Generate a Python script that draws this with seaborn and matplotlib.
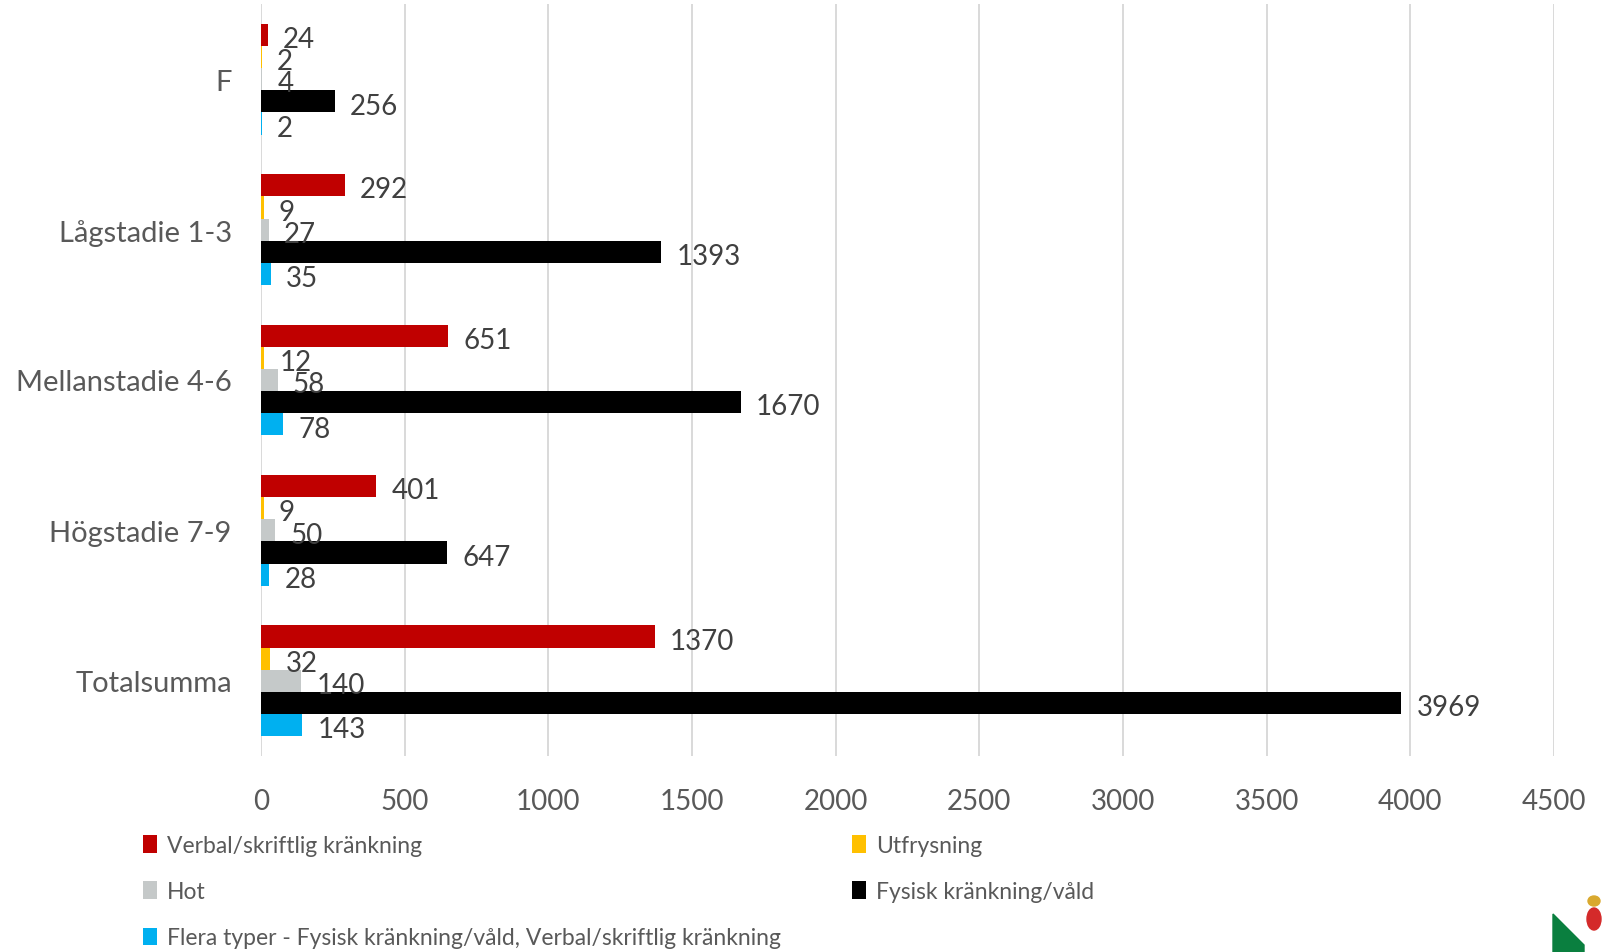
import matplotlib
matplotlib.use("Agg")
import matplotlib.pyplot as plt
from matplotlib import font_manager
from matplotlib.patches import Polygon, Ellipse
import pandas as pd
import seaborn as sns

categories = ["F", "Lågstadie 1-3", "Mellanstadie 4-6", "Högstadie 7-9", "Totalsumma"]
series_names = [
    "Verbal/skriftlig kränkning",
    "Utfrysning",
    "Hot",
    "Fysisk kränkning/våld",
    "Flera typer - Fysisk kränkning/våld, Verbal/skriftlig kränkning",
]
verbal = [24, 292, 651, 401, 1370]
utfrysning = [2, 9, 12, 9, 32]
hot = [4, 27, 58, 50, 140]
fysisk = [256, 1393, 1670, 647, 3969]
flera = [2, 35, 78, 28, 143]
colors = ["#C00000", "#FFC000", "#C5C9C9", "#000000", "#00B0F0"]
x_ticks = [0, 500, 1000, 1500, 2000, 2500, 3000, 3500, 4000, 4500]

W, H, DPI = 1602, 953, 100
TEXT_GREY = "#595959"
LABEL_GREY = "#404040"

sns.set_theme(style="white")
plt.rcParams["font.family"] = ["Lato", "DejaVu Sans"]

available = {f.name for f in font_manager.fontManager.ttflist}
if "Liberation Sans Narrow" in available:
    legend_font = {"family": ["Liberation Sans Narrow", "DejaVu Sans"], "size": 18}
else:
    legend_font = {"family": ["Lato", "DejaVu Sans"], "size": 16.5}

rows = []
for name, values in zip(series_names, [verbal, utfrysning, hot, fysisk, flera]):
    for cat, v in zip(categories, values):
        rows.append({"stadie": cat, "antal": v, "typ": name})
df = pd.DataFrame(rows)

fig = plt.figure(figsize=(W / DPI, H / DPI), dpi=DPI)
ax = fig.add_axes([261 / W, 1 - 757 / H, (1554 - 261) / W, (757 - 5) / H])

sns.barplot(
    data=df, y="stadie", x="antal", hue="typ", orient="h",
    order=categories, hue_order=series_names,
    palette=dict(zip(series_names, colors)), saturation=1,
    width=0.7375, linewidth=0, errorbar=None, legend=False, ax=ax,
)

for container in ax.containers:
    for ann in ax.bar_label(container, fmt="%d", padding=11, fontsize=20, color=LABEL_GREY):
        ann.xyann = (11, -3)

ax.set_xlim(0, 4500)
ax.set_ylim(4.5, -0.5)
ax.set_xticks(x_ticks)
ax.set_xticklabels([str(t) for t in x_ticks])
ax.set_xlabel("")
ax.set_ylabel("")
ax.grid(axis="x", color="#D9D9D9", linewidth=1.4)
ax.set_axisbelow(True)
for side in ["top", "right", "bottom", "left"]:
    ax.spines[side].set_visible(False)
ax.tick_params(axis="x", length=0, pad=23, labelsize=20, labelcolor=TEXT_GREY)
ax.tick_params(axis="y", length=0, pad=21, labelsize=21, labelcolor=TEXT_GREY)

# legend: two columns, laid out like the Excel legend
handles = [c.patches[0] for c in ax.containers]
col1 = [0, 2, 4]
col2 = [1, 3]
leg_kw = dict(
    loc="upper left", frameon=False, prop=legend_font, labelcolor=TEXT_GREY,
    handlelength=0.6, handleheight=0.8, handletextpad=0.45,
    labelspacing=1.1, borderpad=0, borderaxespad=0,
)
fig.legend([handles[i] for i in col1], [series_names[i] for i in col1],
           bbox_to_anchor=(143 / W, 1 - 836 / H), **leg_kw)
fig.legend([handles[i] for i in col2], [series_names[i] for i in col2],
           bbox_to_anchor=(852 / W, 1 - 836 / H), **leg_kw)

# corner logo fragment
fig.patches.append(Polygon(
    [(1553 / W, 1 - 915 / H), (1584 / W, 1 - 946 / H), (1584 / W, 0), (1553 / W, 0)],
    closed=True, transform=fig.transFigure, color="#0A7F3F", zorder=5))
fig.patches.append(Ellipse((1594 / W, 1 - 920 / H), 14 / W, 22 / H,
                           transform=fig.transFigure, color="#D42A2A", zorder=5))
fig.patches.append(Ellipse((1594 / W, 1 - 902 / H), 12 / W, 10 / H,
                           transform=fig.transFigure, color="#D9A92E", zorder=5))

fig.savefig("out.png", dpi=DPI)
